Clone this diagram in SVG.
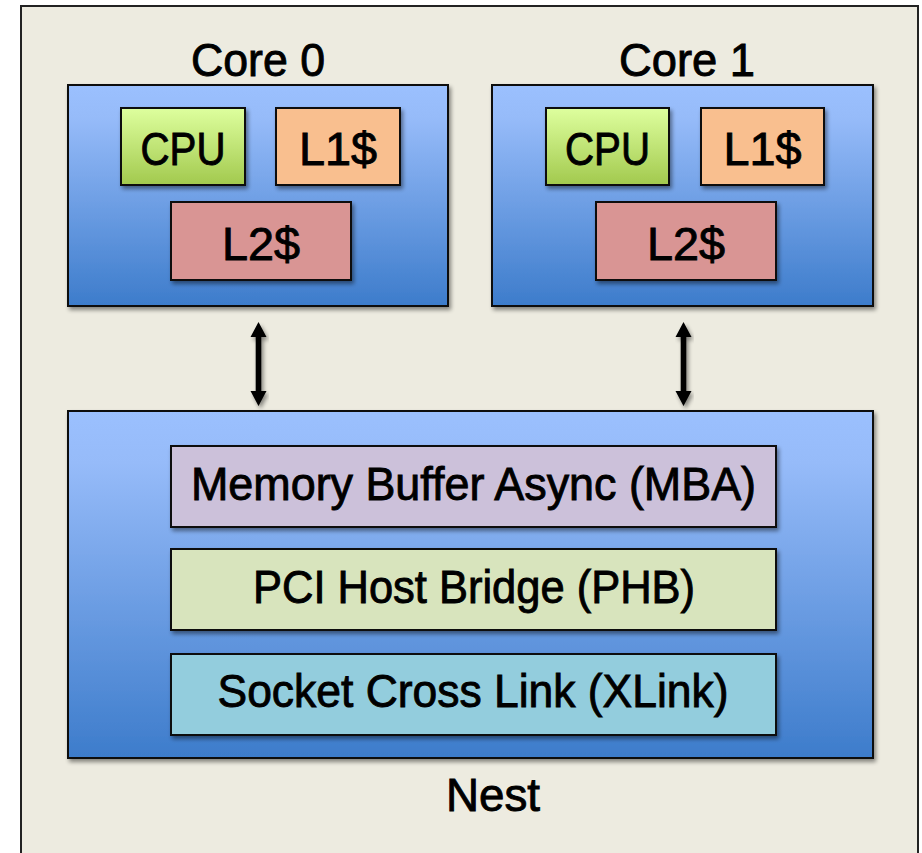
<svg xmlns="http://www.w3.org/2000/svg" width="922" height="853" viewBox="0 0 922 853">
  <defs>
    <linearGradient id="blueFill" x1="0" y1="0" x2="0" y2="1">
      <stop offset="0" stop-color="#9BC0FE"/>
      <stop offset="0.15" stop-color="#96BBF9"/>
      <stop offset="1" stop-color="#3D7CCB"/>
    </linearGradient>
    <linearGradient id="cpuFill" x1="0" y1="0" x2="0" y2="1">
      <stop offset="0" stop-color="#DEFF9E"/>
      <stop offset="1" stop-color="#A2C94E"/>
    </linearGradient>
    <filter id="shadow" x="-10%" y="-10%" width="125%" height="130%">
      <feGaussianBlur in="SourceAlpha" stdDeviation="2"/>
      <feOffset dx="2" dy="3" result="off"/>
      <feComponentTransfer><feFuncA type="linear" slope="0.45"/></feComponentTransfer>
      <feMerge><feMergeNode/><feMergeNode in="SourceGraphic"/></feMerge>
    </filter>
    <style>
      .box { stroke: #111; stroke-width: 2; filter: url(#shadow); }
      .blue { fill: url(#blueFill); }
      .cpu { fill: url(#cpuFill); }
      .l1 { fill: #F9BF8F; }
      .l2 { fill: #D99594; }
      .mba { fill: #CCC1DA; }
      .phb { fill: #D8E4BD; }
      .xl { fill: #93CDDD; }
      .lbl { font-family: "Liberation Sans", Arial, sans-serif; font-size: 46px; fill: #000; stroke: #000; stroke-width: 0.9; text-anchor: middle; }
      .arrow { fill: #000; filter: url(#shadow); }
    </style>
  </defs>

  <!-- chip outline -->
  <rect x="0" y="0" width="922" height="853" fill="#FFFFFF"/>
  <rect id="chip" x="21" y="6" width="897" height="860" fill="#EDEBE0" stroke="#222" stroke-width="2"/>

  <!-- Core 0 -->
  <g id="core0">
    <text class="lbl" x="258" y="76" textLength="134" lengthAdjust="spacingAndGlyphs">Core 0</text>
    <rect class="box blue" x="68" y="85" width="380" height="221"/>
  </g>
  <g id="core0-cpu">
    <rect class="box cpu" x="121" y="108" width="124" height="77"/>
    <text class="lbl" x="183" y="165" textLength="85" lengthAdjust="spacingAndGlyphs">CPU</text>
  </g>
  <g id="core0-l1">
    <rect class="box l1" x="276" y="108" width="124" height="77"/>
    <text class="lbl" x="338" y="165" textLength="78" lengthAdjust="spacingAndGlyphs">L1$</text>
  </g>
  <g id="core0-l2">
    <rect class="box l2" x="171" y="202" width="180" height="78"/>
    <text class="lbl" x="261" y="260" textLength="78" lengthAdjust="spacingAndGlyphs">L2$</text>
  </g>

  <!-- Core 1 -->
  <g id="core1">
    <text class="lbl" x="687" y="76" textLength="136" lengthAdjust="spacingAndGlyphs">Core 1</text>
    <rect class="box blue" x="492" y="85" width="381" height="221"/>
  </g>
  <g id="core1-cpu">
    <rect class="box cpu" x="546" y="108" width="123" height="77"/>
    <text class="lbl" x="607.5" y="165" textLength="85" lengthAdjust="spacingAndGlyphs">CPU</text>
  </g>
  <g id="core1-l1">
    <rect class="box l1" x="701" y="108" width="123" height="77"/>
    <text class="lbl" x="762.5" y="165" textLength="78" lengthAdjust="spacingAndGlyphs">L1$</text>
  </g>
  <g id="core1-l2">
    <rect class="box l2" x="596" y="202" width="180" height="78"/>
    <text class="lbl" x="686" y="260" textLength="78" lengthAdjust="spacingAndGlyphs">L2$</text>
  </g>

  <!-- Nest -->
  <g id="nest">
    <rect class="box blue" x="68" y="411" width="805" height="347"/>
    <text class="lbl" x="493" y="811" textLength="94" lengthAdjust="spacingAndGlyphs">Nest</text>
  </g>
  <g id="nest-mba">
    <rect class="box mba" x="171" y="446" width="605" height="81"/>
    <text class="lbl" x="473.5" y="500" textLength="565" lengthAdjust="spacingAndGlyphs">Memory Buffer Async (MBA)</text>
  </g>
  <g id="nest-phb">
    <rect class="box phb" x="171" y="549" width="605" height="81"/>
    <text class="lbl" x="474" y="603" textLength="442" lengthAdjust="spacingAndGlyphs">PCI Host Bridge (PHB)</text>
  </g>
  <g id="nest-xlink">
    <rect class="box xl" x="171" y="654" width="605" height="81"/>
    <text class="lbl" x="473" y="707" textLength="511" lengthAdjust="spacingAndGlyphs">Socket Cross Link (XLink)</text>
  </g>

  <!-- core-to-nest links (double-headed arrows) -->
  <g id="connectors">
    <path class="arrow" d="M258.5 322 L266.5 337 L261.3 337 L261.3 391 L266.5 391 L258.5 406 L250.5 391 L255.7 391 L255.7 337 L250.5 337 Z"/>
    <path class="arrow" d="M683.5 322 L691.5 337 L686.3 337 L686.3 391 L691.5 391 L683.5 406 L675.5 391 L680.7 391 L680.7 337 L675.5 337 Z"/>
  </g>
</svg>
